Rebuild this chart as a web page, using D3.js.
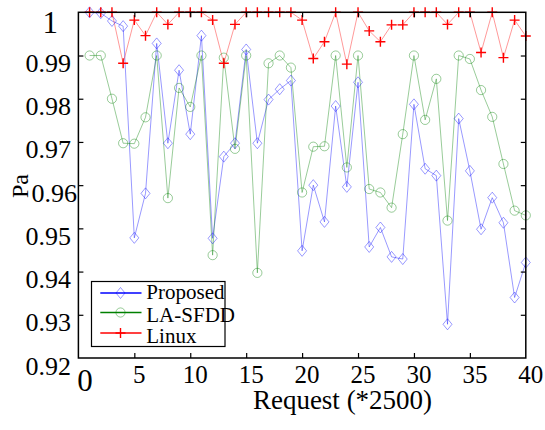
<!DOCTYPE html>
<html><head><meta charset="utf-8">
<script src="https://cdn.jsdelivr.net/npm/d3@7"></script>
<style>body{margin:0;background:#fff}svg{display:block}</style>
</head><body><svg id="c" width="545" height="430"></svg>
<script>
const requests = d3.range(1, 41);
const proposed = [1.0, 0.9998, 0.998, 0.9968, 0.9478, 0.9581, 0.9928, 0.9697, 0.9866, 0.9718,
  0.9946, 0.9477, 0.9666, 0.9697, 0.9914, 0.9697, 0.9798, 0.9822, 0.9842, 0.9448,
  0.96, 0.9515, 0.9783, 0.9596, 0.9838, 0.9457, 0.9502, 0.9434, 0.9429, 0.9787,
  0.9638, 0.9622, 0.9278, 0.9754, 0.9633, 0.9498, 0.9571, 0.9513, 0.934, 0.9421];
const lasfdd = [0.99, 0.99, 0.98, 0.9697, 0.9696, 0.9757, 0.99, 0.957, 0.9825, 0.9781,
  0.99, 0.9438, 0.9895, 0.9684, 0.99, 0.9397, 0.9882, 0.99, 0.9872, 0.9583,
  0.9689, 0.969, 0.99, 0.9641, 0.99, 0.9591, 0.9583, 0.9548, 0.9718, 0.99,
  0.9751, 0.9846, 0.9518, 0.99, 0.9892, 0.982, 0.9758, 0.9649, 0.9541, 0.953];
const linux = [1, 1, 1, 0.9882, 0.9982, 0.9946, 1, 0.9972, 1, 1,
  1, 0.9982, 0.9882, 0.9972, 1, 1, 1, 1, 1, 0.9982,
  0.9893, 0.9932, 1, 0.988, 1, 0.9957, 0.9932, 0.9971, 0.9971, 1,
  1, 1, 0.9972, 1, 1, 0.9907, 1, 0.9895, 0.9982, 0.9945];
const seriesNames = ["Proposed", "LA-SFDD", "Linux"];
const xTicks = [0, 5, 10, 15, 20, 25, 30, 35, 40];
const yTicks = [0.92, 0.93, 0.94, 0.95, 0.96, 0.97, 0.98, 0.99, 1];
const xLabel = "Request (*2500)";
const yLabel = "Pa";

const svg = d3.select("#c");
const font = "'Liberation Serif','Times New Roman',serif";
const x = d3.scaleLinear().domain([0, 40]).range([78.4, 525.8]);
const y = d3.scaleLinear().domain([0.92, 1]).range([358, 12.3]);

const series = [
  {name: seriesNames[0], data: proposed, line: "#0000ff", mk: "diamond"},
  {name: seriesNames[1], data: lasfdd, line: "#008000", mk: "circle"},
  {name: seriesNames[2], data: linux, line: "#ff0000", mk: "plus"}
];

function marker(g, type, cx, cy) {
  if (type === "diamond") {
    g.append("path").attr("d", `M${cx},${cy-5.5}L${cx+4.5},${cy}L${cx},${cy+5.5}L${cx-4.5},${cy}Z`)
      .attr("fill", "none").attr("stroke", "#0000ff").attr("stroke-opacity", 0.4).attr("stroke-width", 1);
  } else if (type === "circle") {
    g.append("circle").attr("cx", cx).attr("cy", cy).attr("r", 4.6)
      .attr("fill", "none").attr("stroke", "#008000").attr("stroke-opacity", 0.4).attr("stroke-width", 1);
  } else {
    g.append("path").attr("d", `M${cx-5},${cy}H${cx+5}M${cx},${cy-5}V${cy+5}`)
      .attr("fill", "none").attr("stroke", "#ff0000").attr("stroke-width", 1.4);
  }
}

// series
const plot = svg.append("g");
const lineGen = d3.line().x((d, i) => x(requests[i])).y(d => y(d));
series.forEach(s => {
  plot.append("path").datum(s.data).attr("d", lineGen)
    .attr("fill", "none").attr("stroke", s.line).attr("stroke-opacity", 0.4).attr("stroke-width", 1);
});
series.forEach(s => {
  const g = plot.append("g");
  s.data.forEach((v, i) => marker(g, s.mk, x(requests[i]), y(v)));
});

// axes (inward ticks on all sides)
svg.append("g").attr("transform", `translate(0,${y(0.92)})`)
  .call(d3.axisBottom(x).tickValues(xTicks.slice(1, -1)).tickSize(-5).tickFormat(""))
  .call(g => g.select(".domain").remove());
svg.append("g").attr("transform", `translate(0,${y(1)})`)
  .call(d3.axisTop(x).tickValues(xTicks.slice(1, -1)).tickSize(-5).tickFormat(""))
  .call(g => g.select(".domain").remove());
svg.append("g").attr("transform", `translate(${x(0)},0)`)
  .call(d3.axisLeft(y).tickValues(yTicks.slice(1, -1)).tickSize(-5).tickFormat(""))
  .call(g => g.select(".domain").remove());
svg.append("g").attr("transform", `translate(${x(40)},0)`)
  .call(d3.axisRight(y).tickValues(yTicks.slice(1, -1)).tickSize(-5).tickFormat(""))
  .call(g => g.select(".domain").remove());
svg.selectAll(".tick line").attr("stroke", "#000").attr("stroke-width", 1.2);
svg.append("rect").attr("x", x(0)).attr("y", y(1)).attr("width", x(40) - x(0)).attr("height", y(0.92) - y(1))
  .attr("fill", "none").attr("stroke", "#000").attr("stroke-width", 1.5);

// tick labels
yTicks.forEach(v => {
  const big = v === 1;
  const xr = big ? 58 : (v === 0.96 ? 77 : 71);
  svg.append("text").attr("x", xr).attr("y", y(v) + (big ? 21 : 16.5))
    .attr("text-anchor", "end").attr("font-family", font).attr("font-size", big ? 31 : 26)
    .attr("fill", "#000").text(big ? "1" : d3.format(".2f")(v));
});
xTicks.forEach(v => {
  const big = v === 0;
  svg.append("text").attr("x", x(v) + (big ? 6.5 : 5)).attr("y", big ? 391 : 382.5)
    .attr("text-anchor", "middle").attr("font-family", font).attr("font-size", big ? 31 : 25)
    .attr("fill", "#000").text(String(v));
});
svg.append("text").attr("x", 342.5).attr("y", 409).attr("text-anchor", "middle")
  .attr("font-family", font).attr("font-size", 27).attr("fill", "#000").text(xLabel);
svg.append("text").attr("transform", "translate(28,186) rotate(-90)").attr("text-anchor", "middle")
  .attr("font-family", font).attr("font-size", 24).attr("fill", "#000").text(yLabel);

// legend
const lg = svg.append("g");
lg.append("rect").attr("x", 91.5).attr("y", 281.5).attr("width", 133.5).attr("height", 65)
  .attr("fill", "#fff").attr("stroke", "#000").attr("stroke-width", 1.2);
const legY = [293, 312.5, 333];
const legText = [298.5, 321.5, 343];
series.forEach((s, i) => {
  lg.append("line").attr("x1", 100.3).attr("x2", 141.5).attr("y1", legY[i]).attr("y2", legY[i])
    .attr("stroke", s.line).attr("stroke-width", 1.5);
  marker(lg, s.mk, 120.5, legY[i]);
  lg.append("text").attr("x", 146.3).attr("y", legText[i]).attr("font-family", font)
    .attr("font-size", 21).attr("fill", "#000").text(s.name);
});
</script>
</body></html>
